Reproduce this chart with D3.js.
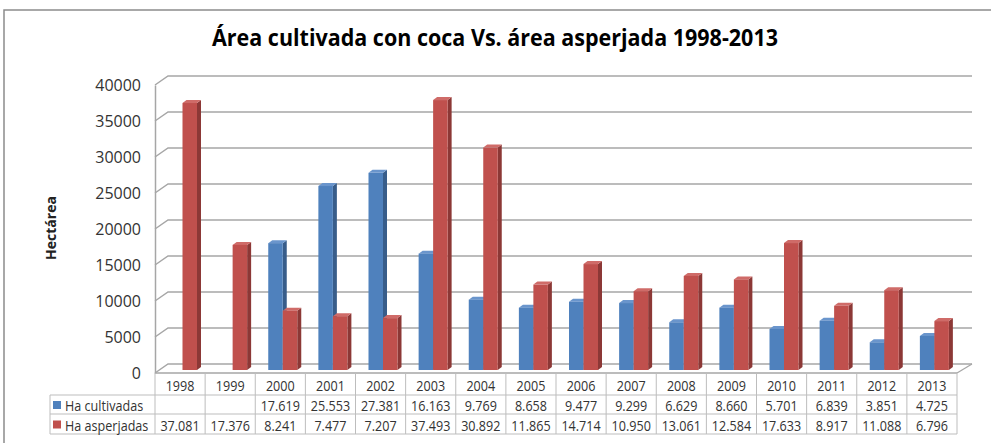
<!DOCTYPE html>
<meta charset="utf-8">
<html>
  <head>
    <title>Área cultivada con coca Vs. área asperjada</title>
    <style>
      body { margin: 0; background: #fff; font-family: "Open Sans", sans-serif; }
    </style>
  </head>
  <body>
    <div id="chart"></div>
    <script src="https://d3js.org/d3.v7.min.js"></script>
    <script>

      // data
      const years = ["1998","1999","2000","2001","2002","2003","2004","2005","2006","2007","2008","2009","2010","2011","2012","2013"];
      const cultivadas = [null, null, 17619, 25553, 27381, 16163, 9769, 8658, 9477, 9299, 6629, 8660, 5701, 6839, 3851, 4725];
      const asperjadas = [37081, 17376, 8241, 7477, 7207, 37493, 30892, 11865, 14714, 10950, 13061, 12584, 17633, 8917, 11088, 6796];
      const seriesNames = ["Ha cultivadas", "Ha asperjadas"];
      const yTicks = [0, 5000, 10000, 15000, 20000, 25000, 30000, 35000, 40000];

      const W = 991, H = 443;
      const depth = {dx: 13, dy: -9};   // depth of the 3d box
      const barDepth = {dx: 4, dy: -3};  // depth of each bar
      const squeeze = 0.84;              // narrow the text a bit (no Calibri here)

      const colors = [
        {front: "#4F81BD", side: "#385D8A", top: "#6A95CC"},
        {front: "#C0504D", side: "#8C3836", top: "#CF6B68"}
      ];

      const svg = d3.select("#chart").append("svg")
        .attr("width", W).attr("height", H);

      // outer frame
      svg.append("path")
        .attr("d", `M4,${H} L4,10 L${W},10`)
        .attr("fill", "none").attr("stroke", "#8c8c8c").attr("stroke-width", 1.5);

      // title
      svg.append("text")
        .attr("x", 495).attr("y", 46)
        .attr("text-anchor", "middle")
        .attr("font-size", "23px").attr("font-weight", "bold")
        .attr("textLength", 566).attr("lengthAdjust", "spacingAndGlyphs")
        .attr("fill", "#000")
        .text("Área cultivada con coca Vs. área asperjada 1998-2013");

      // scales
      const x = d3.scaleBand().domain(years).range([155, 957]);
      const xIn = d3.scaleBand().domain([0, 1]).range([13, 42]);
      const yFront = d3.scaleLinear().domain([0, 40000]).range([373, 85]);
      const yBack = d3.scaleLinear().domain([0, 40000]).range([373 + depth.dy, 85 + depth.dy]);
      const yBar = d3.scaleLinear().domain([0, 40000]).range([370, 82]);

      const x0 = x.range()[0], x1 = x.range()[1];

      // gridlines on left wall + back wall
      svg.append("g").selectAll("path")
        .data(yTicks)
        .join("path")
          .attr("d", d => `M${x0},${yFront(d)} L${x0 + depth.dx},${yBack(d)} L${x1 + depth.dx + 2},${yBack(d)}`)
          .attr("fill", "none").attr("stroke", "#a6a6a6").attr("stroke-width", 1.5);

      // floor right edge
      svg.append("path")
        .attr("d", `M${x1},${yFront(0)} L${x1 + depth.dx + 2},${yBack(0)}`)
        .attr("stroke", "#a6a6a6").attr("stroke-width", 1.2);

      // y axis
      svg.append("g")
        .attr("transform", `translate(${x0},0)`)
        .call(d3.axisLeft(yFront).tickValues(yTicks).tickSize(0).tickPadding(14).tickFormat(d3.format("d")))
        .call(g => g.select(".domain").attr("stroke", "#a6a6a6").attr("stroke-width", 1.5))
        .call(g => g.selectAll("text")
          .attr("font-family", "'Open Sans', sans-serif")
          .attr("font-size", "16px").attr("fill", "#333"));

      svg.append("text")
        .attr("transform", "translate(56,228) rotate(-90)")
        .attr("text-anchor", "middle")
        .attr("font-size", "14px").attr("font-weight", "bold")
        .attr("fill", "#222")
        .text("Hectárea");

      // 3d bars
      const bars = [];
      years.forEach((yr, i) => {
        [cultivadas[i], asperjadas[i]].forEach((v, s) => {
          if (v == null) return;
          bars.push({year: yr, s: s, v: v});
        });
      });

      const gBars = svg.append("g");
      bars.forEach(b => {
        const bx = x(b.year) + xIn(b.s);
        const bw = xIn.bandwidth();
        const yt = yBar(b.v), yb = yBar(0);
        const c = colors[b.s];
        const g = gBars.append("g");
        // side
        g.append("path")
          .attr("d", `M${bx + bw},${yb} L${bx + bw + barDepth.dx},${yb + barDepth.dy} L${bx + bw + barDepth.dx},${yt + barDepth.dy} L${bx + bw},${yt} Z`)
          .attr("fill", c.side);
        // top
        g.append("path")
          .attr("d", `M${bx},${yt} L${bx + barDepth.dx},${yt + barDepth.dy} L${bx + bw + barDepth.dx},${yt + barDepth.dy} L${bx + bw},${yt} Z`)
          .attr("fill", c.top);
        // front
        g.append("rect")
          .attr("x", bx).attr("y", yt)
          .attr("width", bw).attr("height", yb - yt)
          .attr("fill", c.front);
      });

      // data table
      const fmt = v => v == null ? "" : d3.format(",")(v).replace(/,/g, ".");
      const rowY = [373, 395, 414, 434];
      const tLeft = 50;
      const line = "#bdbdbd";
      const table = svg.append("g");

      // floor front edge = top of table
      table.append("line")
        .attr("x1", x0).attr("x2", x1).attr("y1", rowY[0]).attr("y2", rowY[0])
        .attr("stroke", "#a6a6a6").attr("stroke-width", 1.5);
      [1, 2, 3].forEach(r => {
        table.append("line")
          .attr("x1", tLeft).attr("x2", x1).attr("y1", rowY[r]).attr("y2", rowY[r])
          .attr("stroke", line);
      });
      table.append("line")
        .attr("x1", tLeft).attr("x2", tLeft).attr("y1", rowY[1]).attr("y2", rowY[3])
        .attr("stroke", line);
      years.concat(["end"]).forEach((yr, i) => {
        const xx = i < years.length ? x(yr) : x1;
        table.append("line")
          .attr("x1", xx).attr("x2", xx).attr("y1", rowY[0]).attr("y2", rowY[3])
          .attr("stroke", line);
      });

      const tFont = "15px";
      // one cell of text, squeezed horizontally
      function cell(px, py, str, anchor) {
        table.append("text")
          .attr("transform", `translate(${px},${py}) scale(${squeeze},1)`)
          .attr("text-anchor", anchor)
          .attr("dominant-baseline", "central")
          .attr("font-size", tFont).attr("fill", "#333")
          .text(str);
      }

      years.forEach(yr => cell(x(yr) + x.bandwidth() / 2, (rowY[0] + rowY[1]) / 2 + 1, yr, "middle"));

      [cultivadas, asperjadas].forEach((vals, s) => {
        const cy = (rowY[s + 1] + rowY[s + 2]) / 2 + 1;
        table.append("rect")
          .attr("x", tLeft + 3).attr("y", cy - 4.5)
          .attr("width", 8).attr("height", 8)
          .attr("fill", colors[s].front);
        cell(tLeft + 15, cy, seriesNames[s], "start");
        vals.forEach((v, i) => cell(x(years[i]) + x.bandwidth() / 2, cy, fmt(v), "middle"));
      });

    </script>
  </body>
</html>
